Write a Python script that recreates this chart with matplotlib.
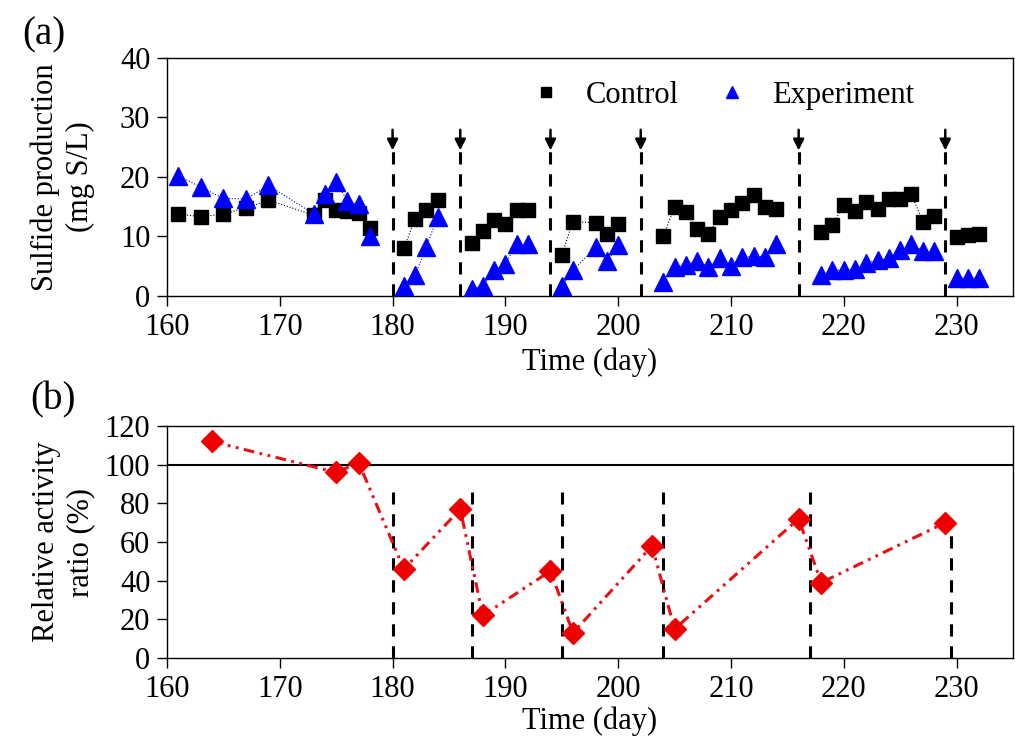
import numpy as np
import matplotlib
matplotlib.use("Agg")
import matplotlib.pyplot as plt

plt.rcParams["font.family"] = ["Liberation Serif", "DejaVu Serif"]
plt.rcParams["font.size"] = 22

# (a) sulfide production
jours = [161, 163, 165, 167, 169, 173, 174, 175, 176, 177, 178,
         181, 182, 183, 184,
         187, 188, 189, 190, 191, 192,
         195, 196, 198, 199, 200,
         204, 205, 206, 207, 208, 209, 210, 211, 212, 213, 214,
         218, 219, 220, 221, 222, 223, 224, 225, 226, 227, 228,
         230, 231, 232]
controle = [13.8, 13.3, 13.8, 14.8, 16.1, 13.6, 16.1, 14.5, 14.2, 13.9, 11.4,
            8.0, 13.0, 14.5, 16.1,
            8.9, 11.0, 12.8, 12.1, 14.5, 14.5,
            6.9, 12.5, 12.3, 10.5, 12.1,
            10.0, 15.0, 14.1, 11.3, 10.4, 13.3, 14.5, 15.7, 17.0, 15.0, 14.6,
            10.8, 11.9, 15.3, 14.3, 15.8, 14.6, 16.3, 16.3, 17.1, 12.5, 13.4,
            9.9, 10.3, 10.5]
experience = [20.2, 18.3, 16.4, 16.3, 18.6, 13.8, 17.1, 19.1, 16.0, 15.4, 10.1,
              1.6, 3.5, 8.3, 13.3,
              1.1, 1.7, 4.3, 5.4, 8.7, 8.7,
              1.7, 4.3, 8.2, 5.8, 8.6,
              2.4, 4.9, 5.2, 5.9, 4.9, 6.3, 5.0, 6.5, 6.7, 6.6, 8.7,
              3.5, 4.3, 4.4, 4.5, 5.6, 6.0, 6.3, 7.7, 8.7, 7.6, 7.6,
              3.1, 3.0, 3.0]
evenements_a = [180, 186, 194, 202, 216, 229]

# (b) relative activity ratio
jours_b = [164, 175, 177, 181, 186, 188, 194, 196, 203, 205, 216, 218, 229]
ratio = [112, 96, 101, 46, 77, 22, 45, 13, 58, 15, 72, 39, 70]
evenements_b = [180, 187, 195, 204, 217, 229.5]
hauts_b = [86, 86, 86, 86, 86, 71]

fig = plt.figure(figsize=(10.15, 7.48), dpi=100)
ax1 = fig.add_axes([0.1645, 0.6043, 0.8335, 0.3182])
ax2 = fig.add_axes([0.1645, 0.1203, 0.8335, 0.3102])

# panel a
jours = np.array(jours)
controle = np.array(controle)
experience = np.array(experience)
groupes = np.searchsorted(evenements_a, jours)
for g in np.unique(groupes):
    m = groupes == g
    ax1.plot(jours[m], controle[m], ls=":", lw=0.8, color="black", zorder=2)
    ax1.plot(jours[m], experience[m], ls=":", lw=0.8, color="blue", zorder=2)
ax1.plot(jours, controle, ls="none", marker="s", ms=10.5, color="black",
         label="Control", zorder=3)
ax1.plot(jours, experience, ls="none", marker="^", ms=13, color="blue",
         label="Experiment", zorder=4)
for x in evenements_a:
    ax1.plot([x, x], [0, 24.5], ls=(0, (4, 3.2)), lw=2.2, color="black", zorder=1)
    ax1.annotate("", xy=(x, 24.0), xytext=(x, 28.4),
                 arrowprops=dict(arrowstyle="-|>", color="black", lw=1.8,
                                 mutation_scale=16))
ax1.set_xlim(160, 235)
ax1.set_ylim(0, 40)
ax1.set_xticks(range(160, 231, 10))
ax1.set_yticks(range(0, 41, 10))
ax1.set_xlabel("Time (day)", labelpad=4)
ax1.set_ylabel("Sulfide production\n(mg S/L)", linespacing=1.25)
leg = ax1.legend(loc="upper center", bbox_to_anchor=(0.652, 1.02), ncol=2,
                 frameon=False, markerscale=0.65, handletextpad=0.55,
                 columnspacing=1.0, handlelength=1.5)

# panel b
ax2.axhline(100, color="black", lw=1.5, zorder=1)
for x, h in zip(evenements_b, hauts_b):
    ax2.plot([x, x], [0, h], ls=(0, (4, 3.2)), lw=2.2, color="black", zorder=1)
ax2.plot(jours_b, ratio, color="#e81010", lw=2.2, dashes=(3.5, 1.8, 0.9, 1.8, 0.9, 1.8),
         marker="D", ms=11.5, markerfacecolor="#ee0000", markeredgecolor="#ee0000",
         zorder=3)
ax2.set_xlim(160, 235)
ax2.set_ylim(0, 120)
ax2.set_xticks(range(160, 231, 10))
ax2.set_yticks(range(0, 121, 20))
ax2.set_xlabel("Time (day)", labelpad=2)
ax2.set_ylabel("Relative activity\nratio (%)", linespacing=1.25)

for ax in (ax1, ax2):
    ax.tick_params(direction="out", length=7, width=1, pad=5)
    for s in ax.spines.values():
        s.set_linewidth(1.0)
    ax.yaxis.set_label_coords(-0.085, 0.5)

fig.text(0.022, 0.94, "(a)", fontsize=28)
fig.text(0.03, 0.452, "(b)", fontsize=28)

fig.savefig("out.png", dpi=100)
